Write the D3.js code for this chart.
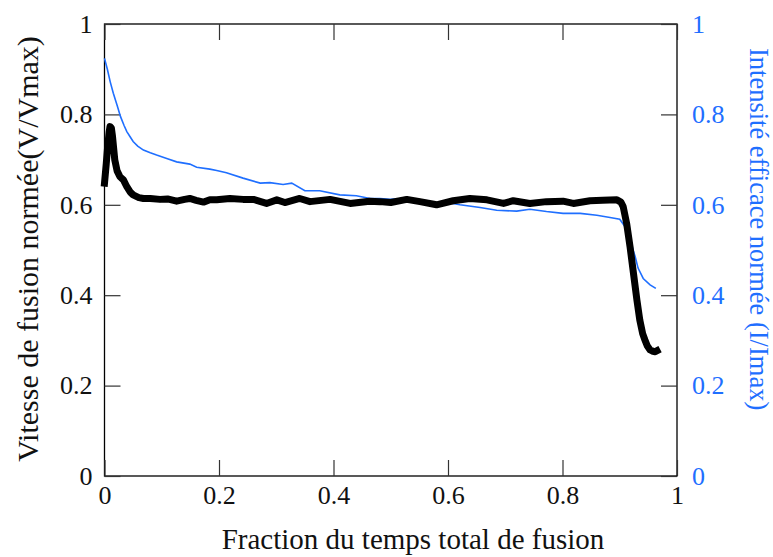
<!DOCTYPE html>
<html><head><meta charset="utf-8">
<script src="https://cdn.jsdelivr.net/npm/d3@7"></script>
<style>
html,body{margin:0;padding:0;background:#fff;}
svg{display:block;}
svg text{font-family:"Liberation Serif","Times New Roman",serif !important;}
</style></head>
<body>
<svg id="chart" width="773" height="557"></svg>
<script>
// ---- data ----
const speedX = [0.000,0.003,0.005,0.008,0.0096,0.012,0.014,0.018,0.022,0.027,0.033,0.039,0.045,0.050,0.060,0.068,0.080,0.097,0.110,0.126,0.140,0.149,0.160,0.173,0.184,0.196,0.219,0.242,0.260,0.283,0.301,0.315,0.341,0.359,0.394,0.429,0.463,0.481,0.500,0.528,0.551,0.580,0.609,0.638,0.668,0.697,0.714,0.743,0.772,0.801,0.819,0.848,0.870,0.895,0.902,0.906,0.912,0.918,0.924,0.930,0.935,0.940,0.944,0.948,0.953,0.958,0.962,0.965];
const speedY = [0.648,0.690,0.721,0.760,0.773,0.770,0.751,0.699,0.675,0.662,0.655,0.640,0.628,0.622,0.616,0.614,0.614,0.612,0.613,0.608,0.612,0.614,0.610,0.606,0.611,0.611,0.614,0.612,0.612,0.603,0.611,0.605,0.614,0.607,0.612,0.603,0.608,0.607,0.605,0.612,0.607,0.600,0.609,0.614,0.611,0.603,0.609,0.603,0.607,0.608,0.603,0.609,0.610,0.611,0.606,0.596,0.559,0.507,0.448,0.389,0.345,0.315,0.301,0.288,0.279,0.276,0.275,0.277];
const intensX = [0.000,0.005,0.010,0.0154,0.022,0.028,0.034,0.039,0.045,0.050,0.058,0.068,0.080,0.091,0.110,0.126,0.149,0.161,0.184,0.196,0.213,0.242,0.272,0.289,0.312,0.327,0.350,0.376,0.411,0.440,0.464,0.481,0.499,0.522,0.539,0.557,0.571,0.598,0.621,0.656,0.685,0.720,0.743,0.772,0.801,0.831,0.860,0.883,0.900,0.909,0.918,0.927,0.932,0.941,0.953,0.963];
const intensY = [0.924,0.900,0.872,0.847,0.820,0.795,0.776,0.762,0.750,0.740,0.730,0.721,0.715,0.710,0.702,0.695,0.690,0.683,0.679,0.676,0.671,0.659,0.648,0.649,0.645,0.648,0.631,0.631,0.622,0.620,0.614,0.614,0.612,0.614,0.607,0.609,0.600,0.605,0.600,0.594,0.588,0.586,0.590,0.585,0.581,0.581,0.577,0.572,0.568,0.552,0.522,0.485,0.460,0.437,0.423,0.415];
const xTicks = [0,0.2,0.4,0.6,0.8,1];
const yTicks = [0,0.2,0.4,0.6,0.8,1];
const xTitle = "Fraction du temps total de fusion";
const yLeftTitle = "Vitesse de fusion normée(V/Vmax)";
const yRightTitle = "Intensité efficace normée (I/Imax)";

// ---- layout ----
const L = 104.5, R = 677, T = 24, B = 476;
const blue = "#1f6fff";
const serif = "Liberation Serif, Times New Roman, serif";
const svg = d3.select("#chart");
const x = d3.scaleLinear().domain([0,1]).range([L,R]);
const y = d3.scaleLinear().domain([0,1]).range([B,T]);
const y2 = d3.scaleLinear().domain([0,1]).range([B,T]);
const fmt = d => d===0||d===1 ? String(d) : d.toFixed(1);
const tickLen = 16;

// frame
svg.append("rect").attr("x",L).attr("y",T).attr("width",R-L).attr("height",B-T)
  .attr("fill","none").attr("stroke","#000").attr("stroke-width",1.3);

// axes
const gB = svg.append("g").attr("transform",`translate(0,${B})`)
  .call(d3.axisBottom(x).tickValues(xTicks).tickFormat(fmt).tickSizeInner(-tickLen).tickSizeOuter(0).tickPadding(10));
const gT = svg.append("g").attr("transform",`translate(0,${T})`)
  .call(d3.axisTop(x).tickValues(xTicks).tickFormat("").tickSizeInner(-tickLen).tickSizeOuter(0));
const gL = svg.append("g").attr("transform",`translate(${L},0)`)
  .call(d3.axisLeft(y).tickValues(yTicks).tickFormat(fmt).tickSizeInner(-tickLen).tickSizeOuter(0).tickPadding(12));
const gR = svg.append("g").attr("transform",`translate(${R},0)`)
  .call(d3.axisRight(y2).tickValues(yTicks).tickFormat(fmt).tickSizeInner(-tickLen).tickSizeOuter(0).tickPadding(15));
[gB,gT,gL,gR].forEach(g=>{
  g.attr("font-family",serif).attr("font-size",26);
  g.select(".domain").remove();
  g.selectAll(".tick line").attr("stroke","#333").attr("stroke-width",1.2);
  g.selectAll(".tick text").style("font-family",serif).style("font-size","26px").attr("fill","#111");
});
gB.selectAll(".tick text").attr("dy","0.71em");
gR.selectAll(".tick text").attr("fill",blue);

// lines
const lineSpeed = d3.line().x(i=>x(speedX[i])).y(i=>y(speedY[i])).curve(d3.curveLinear);
const lineInt = d3.line().x(i=>x(intensX[i])).y(i=>y2(intensY[i])).curve(d3.curveLinear);
svg.append("path").attr("d",lineInt(d3.range(intensX.length)))
  .attr("fill","none").attr("stroke",blue).attr("stroke-width",1.6);
svg.append("path").attr("d",lineSpeed(d3.range(speedX.length)))
  .attr("fill","none").attr("stroke","#000").attr("stroke-width",7)
  .attr("stroke-linejoin","round").attr("stroke-linecap","square");

// titles
svg.append("text").attr("x",413).attr("y",549).attr("text-anchor","middle")
  .style("font-size","29px").attr("fill","#111").text(xTitle);
svg.append("text").attr("transform",`translate(38,249) rotate(-90)`).attr("text-anchor","middle")
  .style("font-size","30px").attr("fill","#111").text(yLeftTitle);
svg.append("text").attr("transform",`translate(750,48) rotate(90)`).attr("text-anchor","start")
  .style("font-size","26.5px").attr("fill",blue).text(yRightTitle);
</script>
</body></html>
